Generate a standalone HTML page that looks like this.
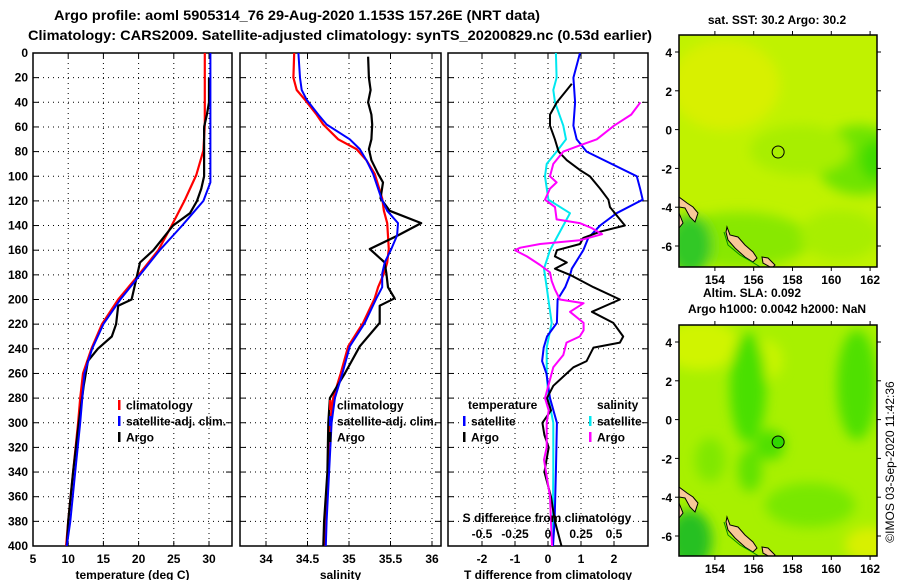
<!DOCTYPE html>
<html><head><meta charset="utf-8"><style>
html,body{margin:0;padding:0;background:#fff;}
svg{display:block;font-family:"Liberation Sans",Arial,sans-serif;font-weight:bold;}
</style></head><body>
<svg id="chart" width="900" height="580" viewBox="0 0 900 580" xmlns="http://www.w3.org/2000/svg">
<defs>
<filter id="blur1" x="-50%" y="-50%" width="200%" height="200%"><feGaussianBlur stdDeviation="6"/></filter>
<clipPath id="clipTop"><rect x="679" y="35" width="198" height="232"/></clipPath>
<clipPath id="clipBot"><rect x="679" y="325" width="198" height="231"/></clipPath>
<clipPath id="clipP1"><rect x="33" y="53" width="199" height="493"/></clipPath>
<clipPath id="clipP2"><rect x="240" y="53" width="201" height="493"/></clipPath>
<clipPath id="clipP3"><rect x="448" y="53" width="200" height="493"/></clipPath>
</defs>
<text x="297" y="20" font-size="14" text-anchor="middle" textLength="486" lengthAdjust="spacingAndGlyphs">Argo profile: aoml 5905314_76 29-Aug-2020 1.153S 157.26E (NRT data)</text>
<text x="340" y="40" font-size="14" text-anchor="middle" textLength="624" lengthAdjust="spacingAndGlyphs">Climatology: CARS2009. Satellite-adjusted climatology: synTS_20200829.nc (0.53d earlier)</text>
<g id="panels"></g>
<g id="maps"></g>
<text transform="translate(894,462) rotate(-90)" font-size="12" font-weight="normal" text-anchor="middle">©IMOS 03-Sep-2020 11:42:36</text>
</svg>
<script>
// ---------- data ----------
const depthsTClim = [0,20,40,58,79,99,120,140,160,180,200,220,240,260,280,300,340,380,400];
const tempClim    = [29.4,29.4,29.4,29.4,29.2,28.2,26.5,24.7,22.8,20.0,17.1,14.8,13.3,12.1,11.7,11.4,10.7,10.0,9.7];
const depthsTSat  = [0,20,40,60,80,105,120,130,140,160,180,200,220,240,260,300,340,380,400];
const tempSat     = [30.2,30.2,30.2,30.2,30.2,30.2,29.2,27.7,26.2,23.0,20.2,17.4,15.0,13.4,12.3,11.7,11.0,10.3,9.8];
const depthsTArgo = [20,40,50,60,80,100,110,120,130,140,150,160,170,180,190,200,205,220,230,240,250,270,300,340,380,400];
const tempArgo    = [30.0,30.0,29.7,29.3,29.3,29.3,28.9,28.3,27.3,24.9,23.5,22.1,20.2,19.8,19.4,19.0,17.1,16.8,16.2,14.2,12.8,12.2,11.5,10.7,10.0,9.8];

const depthsSClim = [0,20,30,38,50,58,70,78,87,98,118,128,138,159,170,179,190,199,219,238,260,280,300,340,380,400];
const salClim     = [34.34,34.33,34.37,34.47,34.61,34.69,34.87,35.09,35.21,35.31,35.40,35.42,35.46,35.48,35.46,35.42,35.35,35.31,35.17,34.99,34.90,34.81,34.77,34.75,34.72,34.71];
const depthsSSat  = [0,20,30,38,50,58,70,78,87,98,118,128,138,148,159,170,179,190,199,219,238,260,280,300,340,380,400];
const salSat      = [34.39,34.41,34.43,34.49,34.63,34.73,35.01,35.13,35.21,35.29,35.39,35.46,35.59,35.58,35.51,35.43,35.40,35.40,35.33,35.19,35.01,34.92,34.83,34.79,34.76,34.73,34.72];
const depthsSArgo = [3,20,30,40,50,58,70,78,87,98,105,118,128,138,148,159,170,179,190,199,205,219,238,260,280,300,340,380,400];
const salArgo     = [35.23,35.24,35.26,35.23,35.27,35.28,35.27,35.24,35.27,35.35,35.41,35.38,35.49,35.87,35.59,35.25,35.43,35.45,35.47,35.55,35.37,35.37,35.13,34.95,34.77,34.75,34.74,34.70,34.69];

const depthsDTSat  = [0,20,40,59,70,80,100,110,119,130,140,150,160,175,180,190,200,219,230,239,250,260,280,300,340,380,400];
const dTSat        = [0.97,0.77,0.82,0.77,0.87,1.17,2.69,2.79,2.87,2.08,1.58,1.22,1.07,0.72,0.67,0.52,0.29,0.27,-0.03,-0.13,-0.18,-0.05,0.06,0.27,0.24,0.20,0.15];
const depthsDTArgo = [25,30,40,50,59,70,80,87,95,100,110,119,125,135,140,145,150,155,160,165,170,175,180,190,200,210,219,230,235,239,250,255,260,270,280,290,300,310,320,340,360,380,400];
const dTArgo       = [0.72,0.57,0.27,0.06,0.06,0.21,0.32,0.57,0.97,1.27,1.58,1.83,1.88,2.18,2.33,1.58,1.07,0.97,0.27,0.21,0.57,0.21,0.67,1.38,2.18,1.33,1.98,2.28,2.18,1.38,1.17,0.77,0.57,0.16,-0.03,0.09,-0.17,-0.11,0.02,-0.11,0.09,0.21,0.41];
const depthsDSSat  = [0,20,30,40,59,70,80,90,100,119,130,140,150,160,175,190,200,219,239,260,280,300,340,400];
const dSSat        = [0.06,0.065,0.04,0.053,0.116,0.136,0.065,-0.01,-0.023,0.003,0.167,0.116,0.065,0.015,-0.03,-0.01,0.003,0.028,-0.01,-0.01,0.003,0.04,0.04,0.035];
const depthsDSArgo = [40,50,59,70,75,80,90,100,105,110,119,125,135,138,142,147,152,155,158,160,165,172,178,185,192,200,203,210,219,225,230,235,245,255,265,280,290,300,320,330,360,400];
const dSArgo       = [0.70,0.63,0.50,0.37,0.24,0.116,0.04,0.015,0.065,0.015,-0.023,0.053,0.065,0.24,0.33,0.41,0.24,-0.06,-0.21,-0.25,-0.16,-0.06,0.015,0.028,0.053,0.09,0.27,0.167,0.27,0.27,0.24,0.14,0.116,0.04,0.015,-0.023,0.005,-0.01,-0.01,-0.03,0.015,0.03];

const depthTicks = [0,20,40,60,80,100,120,140,160,180,200,220,240,260,280,300,320,340,360,380,400];
const tempTicks = [5,10,15,20,25,30];
const salTicks = [34,34.5,35,35.5,36];
const salTickLabels = ["34","34.5","35","35.5","36"];
const dTTicks = [-2,-1,0,1,2];
const dSTicks = [-0.5,-0.25,0,0.25,0.5];
const dSTickLabels = ["-0.5","-0.25","0","0.25","0.5"];
const lonTicks = [154,156,158,160,162];
const latTicks = [4,2,0,-2,-4,-6];
const argoLon = 157.26, argoLat = -1.153;

// ---------- scales ----------
const Y = d => 53 + d*1.2325;
const XT = t => 33 + (t-5)*7.04;
const XS = s => 266 + (s-34)*83;
const XDT = t => 548 + t*33;
const XDS = s => 548 + s*132;
const MX = lon => 679 + (lon-152.15)*19.4;
const MYtop = lat => 52 + (4-lat)*19.4;
const MYbot = lat => 342 + (4-lat)*19.4;

const NS = "http://www.w3.org/2000/svg";
function mk(tag, attrs, parent){
  const e = document.createElementNS(NS, tag);
  for (const k in attrs) e.setAttribute(k, attrs[k]);
  parent.appendChild(e);
  return e;
}
const panels = document.getElementById('panels');

function drawPanel(name, x0, x1, xticks, xlabels, xfun, showY, xtitle){
  const g = mk('g', {}, panels);
  
  
  // grid
  xticks.forEach(t => {
    const gl = mk('line', {x1:xfun(t), x2:xfun(t), y1:53, y2:546, stroke:'#000', 'stroke-width':1, 'stroke-dasharray':'1,4'}, g);
    
    
    mk('line', {x1:xfun(t), x2:xfun(t), y1:546, y2:541, stroke:'#000'}, g);
    mk('line', {x1:xfun(t), x2:xfun(t), y1:53, y2:58, stroke:'#000'}, g);
  });
  depthTicks.forEach(d => {
    if (d>0 && d<400){
      const gl = mk('line', {x1:x0, x2:x1, y1:Y(d), y2:Y(d), stroke:'#000', 'stroke-width':1, 'stroke-dasharray':'1,4'}, g);
      
      
    }
    mk('line', {x1:x0, x2:x0+6, y1:Y(d), y2:Y(d), stroke:'#000'}, g);
    mk('line', {x1:x1-6, x2:x1, y1:Y(d), y2:Y(d), stroke:'#000'}, g);
    if (showY){
      const t = mk('text', {x:28, y:Y(d)+4, 'font-size':12, 'text-anchor':'end'}, g);
      
      
      t.textContent = d;
    }
  });
  const fr = mk('rect', {x:x0, y:53, width:x1-x0, height:493, fill:'none', stroke:'#000', 'stroke-width':1.5}, g);
  
  
  xticks.forEach((t,i) => {
    const tx = mk('text', {x:xfun(t), y:563, 'font-size':12, 'text-anchor':'middle'}, g);
    
    
    tx.textContent = xlabels[i];
  });
  const tt = mk('text', {x:(x0+x1)/2, y:579, 'font-size':12, 'text-anchor':'middle'}, g);
  
  
  tt.textContent = xtitle;
  return g;
}

function series(g, depths, vals, xfun, color, w, clip, name){
  const pts = depths.map((d,i) => xfun(vals[i]).toFixed(1)+','+Y(d).toFixed(1)).join(' ');
  const p = mk('polyline', {points:pts, fill:'none', stroke:color, 'stroke-width':w, 'stroke-linejoin':'round', 'clip-path':'url(#'+clip+')'}, g);
  
  
}

function legend(g, x, y, color, label){
  const b = mk('rect', {x:x-1, y:y-5, width:2.5, height:10, fill:color}, g);
  
  
  const t = mk('text', {x:x+7, y:y+4.5, 'font-size':12}, g);
  
  
  t.textContent = label;
}

// Panel 1 temperature
const g1 = drawPanel('temperature-panel', 33, 232, tempTicks, tempTicks.map(String), XT, true, 'temperature (deg C)');
series(g1, depthsTClim, tempClim, XT, '#ff0000', 2.2, 'clipP1', 'temperature-climatology-line');
series(g1, depthsTArgo, tempArgo, XT, '#000000', 2.2, 'clipP1', 'temperature-argo-line');
series(g1, depthsTSat, tempSat, XT, '#0000ff', 2, 'clipP1', 'temperature-satellite-line');
legend(g1, 119, 405, '#ff0000', 'climatology');
legend(g1, 119, 421, '#0000ff', 'satellite-adj. clim.');
legend(g1, 119, 437, '#000000', 'Argo');

// Panel 2 salinity
const g2 = drawPanel('salinity-panel', 240, 441, salTicks, salTickLabels, XS, false, 'salinity');
series(g2, depthsSClim, salClim, XS, '#ff0000', 2.2, 'clipP2', 'salinity-climatology-line');
series(g2, depthsSArgo, salArgo, XS, '#000000', 2.2, 'clipP2', 'salinity-argo-line');
series(g2, depthsSSat, salSat, XS, '#0000ff', 2, 'clipP2', 'salinity-satellite-line');
legend(g2, 330, 405, '#ff0000', 'climatology');
legend(g2, 330, 421, '#0000ff', 'satellite-adj. clim.');
legend(g2, 330, 437, '#000000', 'Argo');

// Panel 3 differences
const g3 = drawPanel('difference-panel', 448, 648, dTTicks, dTTicks.map(String), XDT, false, 'T difference from climatology');
series(g3, depthsDSSat, dSSat, XDS, '#00e8f0', 2, 'clipP3', 'salinity-diff-satellite-line');
series(g3, depthsDTSat, dTSat, XDT, '#0000ff', 2, 'clipP3', 'temperature-diff-satellite-line');
series(g3, depthsDTArgo, dTArgo, XDT, '#000000', 2, 'clipP3', 'temperature-diff-argo-line');
series(g3, depthsDSArgo, dSArgo, XDS, '#ff00ff', 2, 'clipP3', 'salinity-diff-argo-line');
{
  const t = mk('text', {x:468, y:409, 'font-size':12}, g3);
  
  
  t.textContent = 'temperature';
  const s = mk('text', {x:597, y:409, 'font-size':12}, g3);
  
  
  s.textContent = 'salinity';
}
legend(g3, 464, 421, '#0000ff', 'satellite');
legend(g3, 464, 437, '#000000', 'Argo');
legend(g3, 590, 421, '#00e8f0', 'satellite');
legend(g3, 590, 437, '#ff00ff', 'Argo');
{
  const t = mk('text', {x:547, y:522, 'font-size':12, 'text-anchor':'middle'}, g3);
  
  
  t.textContent = 'S difference from climatology';
  dSTicks.forEach((v,i) => {
    const tl = mk('text', {x:XDS(v), y:538, 'font-size':12, 'text-anchor':'middle'}, g3);
    
    
    tl.textContent = dSTickLabels[i];
  });
}

// ---------- maps ----------
const maps = document.getElementById('maps');
function land(g, dy){
  const polys = [
    [[679,197],[687,203],[693,207],[698,213],[695,222],[690,217],[685,208],[679,207]],
    [[679,213],[683,223],[679,228]],
    [[727,227],[730,235],[738,237],[745,245],[753,252],[757,258],[753,262],[745,257],[735,248],[728,240],[726,232]],
    [[762,257],[768,258],[775,265],[772,268],[763,263]]
  ];
  polys.forEach(p => {
    const e = mk('polygon', {points:p.map(q => q[0]+','+(q[1]+dy)).join(' '), fill:'#f8c898', stroke:'#000', 'stroke-width':1}, g);
    
    
  });
  const c = mk('polyline', {points:[[724,232],[728,245],[740,255],[752,262],[762,268]].map(q=>q[0]+','+(q[1]+dy)).join(' '), fill:'none', stroke:'#008800', 'stroke-width':1}, g);
  
  
}
function mapAxes(g, top, bottom, MY, title, titleY){
  lonTicks.forEach(l => {
    mk('line', {x1:MX(l), x2:MX(l), y1:top-4, y2:top, stroke:'#000'}, g);
    mk('line', {x1:MX(l), x2:MX(l), y1:bottom, y2:bottom+4, stroke:'#000'}, g);
    const t = mk('text', {x:MX(l), y:bottom+17, 'font-size':12, 'text-anchor':'middle'}, g);
    
    
    t.textContent = l;
  });
  latTicks.forEach(l => {
    mk('line', {x1:675, x2:679, y1:MY(l), y2:MY(l), stroke:'#000'}, g);
    mk('line', {x1:877, x2:881, y1:MY(l), y2:MY(l), stroke:'#000'}, g);
    const t = mk('text', {x:672, y:MY(l)+5, 'font-size':12, 'text-anchor':'end'}, g);
    
    
    t.textContent = l;
  });
  const f = mk('rect', {x:679, y:top, width:198, height:bottom-top, fill:'none', stroke:'#000', 'stroke-width':1.5}, g);
  
  
}
// Top SST map
{
  const g = mk('g', {}, maps);
  
  
  const t = mk('text', {x:777, y:24, 'font-size':12, 'text-anchor':'middle'}, g);
  
  
  t.textContent = 'sat. SST: 30.2 Argo: 30.2';
  const c = mk('g', {'clip-path':'url(#clipTop)'}, g);
  mk('rect', {x:679, y:35, width:198, height:232, fill:'#c0f200'}, c);
  const b = mk('g', {filter:'url(#blur1)'}, c);
  mk('ellipse', {cx:725, cy:85, rx:55, ry:45, fill:'#d8f000'}, b);
  mk('ellipse', {cx:860, cy:160, rx:45, ry:35, fill:'#70e400'}, b);
  mk('ellipse', {cx:875, cy:160, rx:15, ry:20, fill:'#40dc00'}, b);
  mk('ellipse', {cx:800, cy:150, rx:50, ry:25, fill:'#a8ee00'}, b);
  mk('ellipse', {cx:740, cy:240, rx:70, ry:28, fill:'#88e800'}, b);
  mk('ellipse', {cx:690, cy:245, rx:22, ry:30, fill:'#30c828'}, b);
  mk('ellipse', {cx:840, cy:235, rx:40, ry:25, fill:'#a8ee00'}, b);
  land(c, 0);
  const m = mk('circle', {cx:MX(argoLon), cy:MYtop(argoLat), r:6, fill:'none', stroke:'#000', 'stroke-width':1}, g);
  
  
  mapAxes(g, 35, 267, MYtop);
}
// Bottom SLA map
{
  const g = mk('g', {}, maps);
  
  
  const t1 = mk('text', {x:752, y:297, 'font-size':12, 'text-anchor':'middle'}, g);
  
  
  t1.textContent = 'Altim. SLA: 0.092';
  const t2 = mk('text', {x:777, y:313, 'font-size':12, 'text-anchor':'middle'}, g);
  
  
  t2.textContent = 'Argo h1000: 0.0042 h2000: NaN';
  const c = mk('g', {'clip-path':'url(#clipBot)'}, g);
  mk('rect', {x:679, y:325, width:198, height:231, fill:'#a8f000'}, c);
  const b = mk('g', {filter:'url(#blur1)'}, c);
  mk('ellipse', {cx:700, cy:345, rx:40, ry:25, fill:'#d0f400'}, b);
  mk('ellipse', {cx:765, cy:360, rx:18, ry:20, fill:'#c8f400'}, b);
  mk('ellipse', {cx:748, cy:388, rx:18, ry:55, fill:'#48e000'}, b);
  mk('ellipse', {cx:857, cy:385, rx:20, ry:55, fill:'#50e000'}, b);
  mk('ellipse', {cx:770, cy:445, rx:15, ry:15, fill:'#50e000'}, b);
  mk('ellipse', {cx:750, cy:470, rx:12, ry:22, fill:'#60e200'}, b);
  mk('ellipse', {cx:810, cy:505, rx:45, ry:22, fill:'#78e800'}, b);
  mk('ellipse', {cx:710, cy:460, rx:15, ry:22, fill:'#80e800'}, b);
  mk('ellipse', {cx:690, cy:540, rx:22, ry:30, fill:'#28c020'}, b);
  mk('ellipse', {cx:870, cy:545, rx:25, ry:18, fill:'#d8f000'}, b);
  land(c, 290);
  const m = mk('circle', {cx:MX(argoLon), cy:MYbot(argoLat), r:6, fill:'#30d800', stroke:'#000', 'stroke-width':1}, g);
  
  
  mapAxes(g, 325, 556, MYbot);
}
</script>
</body></html>
